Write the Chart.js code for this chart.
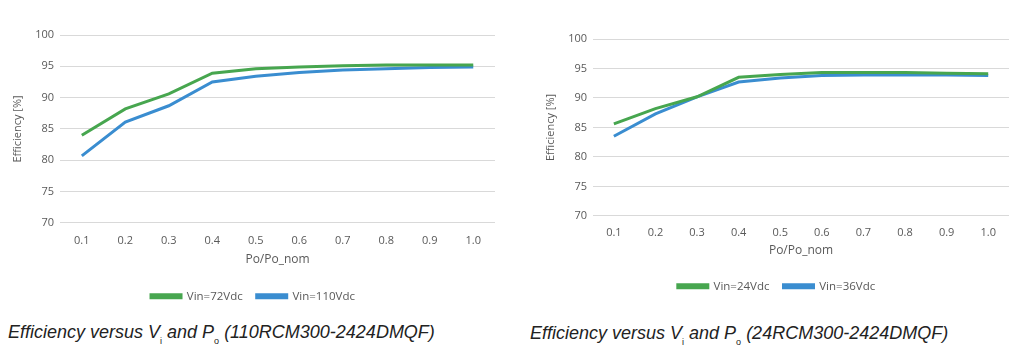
<!DOCTYPE html>
<html>
<head>
<meta charset="utf-8">
<script src="https://cdn.jsdelivr.net/npm/chart.js@4/dist/chart.umd.min.js"></script>
<style>
  body { margin: 0; background: #fff; width: 1018px; height: 362px; overflow: hidden; position: relative; }
  .box { position: absolute; }
  .cap { position: absolute; font-family: "Liberation Sans", Arial, sans-serif; font-style: italic; font-size: 18px; color: #222; white-space: nowrap; }
  .cap sub { font-size: 9px; vertical-align: -6px; font-style: normal; }
</style>
</head>
<body>
<div class="box" style="left:0;top:0;width:505px;height:312px"><canvas id="c1"></canvas></div>
<div class="box" style="left:520px;top:0;width:498px;height:302px"><canvas id="c2"></canvas></div>
<div class="cap" style="left:8px;top:322px">Efficiency versus V<sub>i</sub> and P<sub>o</sub> (110RCM300-2424DMQF)</div>
<div class="cap" style="left:530px;top:323px">Efficiency versus V<sub>i</sub> and P<sub>o</sub> (24RCM300-2424DMQF)</div>
<script>
// beban relatif (sumbu x)
const loadLabels = ["0.1", "0.2", "0.3", "0.4", "0.5", "0.6", "0.7", "0.8", "0.9", "1.0"];

// grafik kiri: 110RCM300
const eff72 = [84.0, 88.2, 90.6, 93.9, 94.6, 94.9, 95.1, 95.2, 95.2, 95.2];
const eff110 = [80.7, 86.1, 88.7, 92.5, 93.4, 94.0, 94.4, 94.6, 94.8, 94.9];

// grafik kanan: 24RCM300
const eff24 = [85.6, 88.2, 90.2, 93.5, 94.0, 94.3, 94.3, 94.3, 94.2, 94.1];
const eff36 = [83.5, 87.3, 90.2, 92.7, 93.4, 93.8, 93.9, 93.9, 93.9, 93.8];

const yTicks = [70, 75, 80, 85, 90, 95, 100];

const GREEN = "#47a64f";
const BLUE = "#3a8dd0";
const TXT = "#595959";
const FONT = "'Open Sans', 'DejaVu Sans', sans-serif";

function makeChart(id, names, series, pad, tickPad, titlePad) {
    const ctx = document.getElementById(id).getContext("2d");
    return new Chart(ctx, {
        type: "line",
        data: {
            labels: loadLabels,
            datasets: [{
                label: names[0],
                data: series[0],
                borderColor: GREEN,
                backgroundColor: GREEN,
                borderWidth: 3,
                pointRadius: 0,
                tension: 0,
                fill: false
            }, {
                label: names[1],
                data: series[1],
                borderColor: BLUE,
                backgroundColor: BLUE,
                borderWidth: 3,
                pointRadius: 0,
                tension: 0,
                fill: false
            }]
        },
        options: {
            responsive: true,
            maintainAspectRatio: false,
            animation: false,
            layout: { padding: pad },
            scales: {
                x: {
                    offset: true,
                    grid: { display: false },
                    border: { display: false },
                    ticks: { color: TXT, font: { family: FONT, size: 11 }, padding: tickPad },
                    title: {
                        display: true,
                        text: "Po/Po_nom",
                        color: TXT,
                        font: { family: FONT, size: 12 },
                        padding: { top: 2, bottom: titlePad }
                    }
                },
                y: {
                    min: 70,
                    max: 100,
                    afterBuildTicks: axis => { axis.ticks = yTicks.map(v => ({ value: v })); },
                    grid: { color: "#d9d9d9", lineWidth: 1, drawTicks: false },
                    border: { display: false },
                    ticks: { color: TXT, font: { family: FONT, size: 11 }, padding: 6 },
                    title: {
                        display: true,
                        text: "Efficiency [%]",
                        color: TXT,
                        font: { family: FONT, size: 11 },
                        padding: { top: 0, bottom: 5 }
                    }
                }
            },
            plugins: {
                legend: {
                    position: "bottom",
                    labels: {
                        color: TXT,
                        font: { family: FONT, size: 11.5 },
                        boxWidth: 30,
                        boxHeight: 3,
                        padding: 14
                    }
                },
                tooltip: { enabled: false }
            }
        }
    });
}

makeChart("c1", ["Vin=72Vdc", "Vin=110Vdc"], [eff72, eff110], { top: 35, left: 11, right: 10, bottom: 0 }, 3, 10);
makeChart("c2", ["Vin=24Vdc", "Vin=36Vdc"], [eff24, eff36], { top: 39, left: 24, right: 9, bottom: 0 }, 2, 9);
</script>
</body>
</html>
